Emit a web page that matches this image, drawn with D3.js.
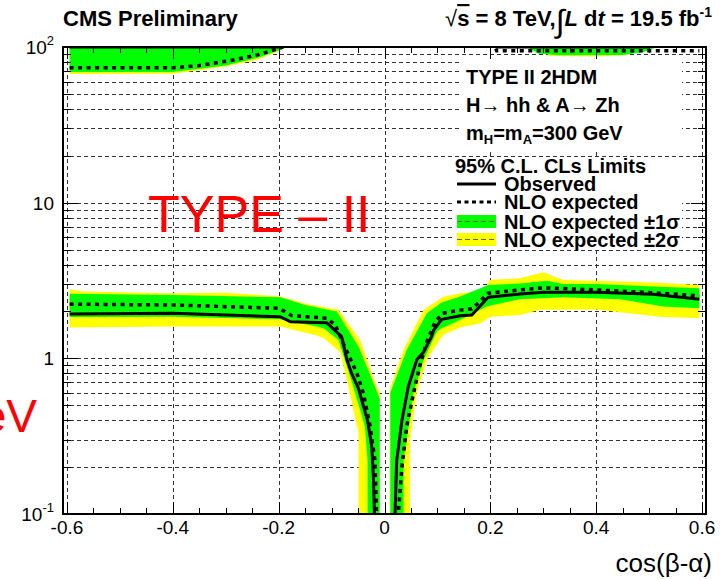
<!DOCTYPE html>
<html><head><meta charset="utf-8">
<script src="https://cdn.jsdelivr.net/npm/d3@7"></script>
<style>body{margin:0;background:#fff} text{font-family:"Liberation Sans",Arial,Helvetica,sans-serif}</style>
</head><body><svg id="c" width="727" height="580"></svg>
<script>
// ---------- data ----------
const xTicks = [-0.6,-0.4,-0.2,0,0.2,0.4,0.6];
const xTickLabels = ["-0.6","-0.4","-0.2","0","0.2","0.4","0.6"];
const yTicks = [0.1,1,10,100];
const yLabelBase = ["10","1","10","10"];
const yLabelExp = ["-1","","","2"];

// lower branch, cos(b-a) < 0
const obsLowL = [[-0.595,1.93],[-0.4,1.95],[-0.3,1.90],[-0.197,1.85],[-0.178,1.72],[-0.109,1.69],[-0.081,1.38],[-0.071,0.98],[-0.062,0.80],[-0.049,0.64],[-0.043,0.54],[-0.032,0.40],[-0.024,0.27],[-0.021,0.174],[-0.019,0.10],[-0.018,0.05]];
const expLowL = [[-0.595,2.23],[-0.4,2.20],[-0.2,2.10],[-0.175,1.88],[-0.109,1.81],[-0.093,1.64],[-0.078,1.25],[-0.052,0.80],[-0.040,0.60],[-0.027,0.365],[-0.018,0.22],[-0.015,0.10],[-0.014,0.05]];
const p2LowL = [[-0.595,2.78],[-0.57,2.69],[-0.4,2.62],[-0.3,2.64],[-0.197,2.50],[-0.15,2.25],[-0.087,2.05],[-0.046,1.31],[-0.015,0.66],[-0.009,0.60],[-0.009,0.01]];
const p1LowL = [[-0.595,2.60],[-0.4,2.55],[-0.197,2.47],[-0.15,2.2],[-0.09,2.0],[-0.049,1.19],[-0.018,0.66],[-0.009,0.55],[-0.009,0.01]];
const m1LowL = [[-0.595,1.84],[-0.4,1.85],[-0.197,1.78],[-0.128,1.60],[-0.115,1.56],[-0.087,1.31],[-0.059,0.66],[-0.037,0.365],[-0.032,0.22],[-0.032,0.01]];
const m2LowL = [[-0.595,1.58],[-0.4,1.60],[-0.197,1.60],[-0.128,1.40],[-0.115,1.35],[-0.084,1.10],[-0.068,0.66],[-0.049,0.33],[-0.049,0.01]];

// lower branch, cos(b-a) > 0
const obsLowR = [[0.018,0.05],[0.020,0.10],[0.023,0.22],[0.033,0.40],[0.045,0.66],[0.061,0.98],[0.074,1.10],[0.089,1.38],[0.093,1.52],[0.108,1.78],[0.143,1.88],[0.165,1.90],[0.196,2.47],[0.256,2.59],[0.300,2.66],[0.401,2.66],[0.508,2.58],[0.595,2.40]];
const expLowR = [[0.025,0.05],[0.026,0.10],[0.033,0.20],[0.042,0.365],[0.055,0.60],[0.067,0.90],[0.080,1.28],[0.096,1.72],[0.110,1.95],[0.143,2.04],[0.165,2.08],[0.196,2.62],[0.256,2.75],[0.300,2.84],[0.401,2.75],[0.508,2.64],[0.595,2.52]];
const p2LowR = [[0.010,0.01],[0.010,0.63],[0.036,1.13],[0.074,2.05],[0.111,2.49],[0.143,2.62],[0.190,2.72],[0.198,3.19],[0.256,3.27],[0.300,3.57],[0.338,3.19],[0.401,3.15],[0.508,3.07],[0.595,2.96]];
const p1LowR = [[0.011,0.01],[0.011,0.60],[0.042,1.13],[0.080,1.95],[0.108,2.28],[0.143,2.50],[0.196,2.96],[0.256,3.03],[0.307,3.15],[0.338,3.00],[0.401,3.00],[0.508,2.89],[0.595,2.82]];
const m1LowR = [[0.036,0.01],[0.036,0.22],[0.055,0.60],[0.074,0.98],[0.099,1.48],[0.108,1.56],[0.130,1.68],[0.162,1.90],[0.193,2.15],[0.256,2.40],[0.338,2.47],[0.445,2.40],[0.527,2.15],[0.595,2.10]];
const m2LowR = [[0.048,0.01],[0.048,0.30],[0.061,0.60],[0.080,0.98],[0.111,1.42],[0.143,1.58],[0.181,1.68],[0.200,1.85],[0.256,1.90],[0.294,2.05],[0.401,2.06],[0.520,1.85],[0.595,1.81]];

// upper branch
const obsUpL = [[-0.595,100],[-0.19,100]];
const obsUpR = [[0.21,100],[0.50,100]];
const expUpL = [[-0.595,73.5],[-0.4,73.5],[-0.35,76],[-0.29,82],[-0.24,89],[-0.195,99],[-0.185,110]];
const expUpR = [[0.205,110],[0.212,94.5],[0.595,94.5]];
const pUpL = [[-0.595,200],[-0.183,200]];
const m1UpL = [[-0.595,69],[-0.4,69],[-0.3,76],[-0.24,85],[-0.2,95],[-0.185,100],[-0.183,200]];
const m2UpL = [[-0.595,67],[-0.4,67.3],[-0.3,75],[-0.24,83],[-0.2,94],[-0.188,100],[-0.186,200]];
const pUpR1 = [[0.27,200],[0.515,200]];
const m1UpR = [[0.27,100],[0.29,91],[0.33,88.5],[0.45,89],[0.49,93],[0.515,100]];
const pUpR2 = [[0.30,200],[0.485,200]];
const m2UpR = [[0.30,100],[0.31,88],[0.40,87],[0.46,89],[0.485,100]];

const GREEN = "#00ff00", YELLOW = "#ffff00";

// ---------- chart ----------
const svg = d3.select("#c");
svg.append("rect").attr("width",727).attr("height",580).attr("fill","#fff");
const L = 63, R = 706, T = 47, B = 514;
const xScale = d3.scaleLinear().domain([-0.6075,0.6075]).range([L,R]);
const yScale = d3.scaleLog().domain([0.1,100]).range([B,T]);

svg.append("defs").append("clipPath").attr("id","pc").append("rect")
  .attr("x",L).attr("y",T).attr("width",R-L).attr("height",B-T);

// grid
const gridY = [];
[0.1,1,10].forEach(d=>{for(let k=1;k<=9;k++){const v=d*k; if(v>0.1000001) gridY.push(v);}});
const gGrid = svg.append("g").attr("stroke","#333").attr("stroke-width",1).attr("stroke-dasharray","4,3");
gGrid.selectAll("line.h").data(gridY).join("line").attr("class","h")
  .attr("x1",L).attr("x2",R).attr("y1",d=>Math.round(yScale(d))+0.5).attr("y2",d=>Math.round(yScale(d))+0.5);
gGrid.selectAll("line.v").data(xTicks).join("line").attr("class","v")
  .attr("y1",T).attr("y2",B).attr("x1",d=>Math.round(xScale(d))+0.5).attr("x2",d=>Math.round(xScale(d))+0.5);

const line = d3.line().x(d=>xScale(d[0])).y(d=>yScale(d[1]));
const poly = (up,lo)=> line(up.concat(lo.slice().reverse())) + "Z";

const gData = svg.append("g").attr("clip-path","url(#pc)");
const yellowBands = [[p2LowL,m2LowL],[p2LowR,m2LowR],[pUpL,m2UpL],[pUpR2,m2UpR]];
const greenBands = [[p1LowL,m1LowL],[p1LowR,m1LowR],[pUpL,m1UpL],[pUpR1,m1UpR]];
gData.selectAll("path.y").data(yellowBands).join("path").attr("class","y")
  .attr("d",d=>poly(d[0],d[1])).attr("fill",YELLOW).attr("stroke","none");
gData.selectAll("path.g").data(greenBands).join("path").attr("class","g")
  .attr("d",d=>poly(d[0],d[1])).attr("fill",GREEN).attr("stroke","none");
gData.selectAll("path.e").data([expLowL,expLowR,expUpL,expUpR]).join("path").attr("class","e")
  .attr("d",line).attr("fill","none").attr("stroke","#000").attr("stroke-width",3.5).attr("stroke-dasharray","4,4.5");
gData.selectAll("path.o").data([obsLowL,obsLowR,obsUpL,obsUpR]).join("path").attr("class","o")
  .attr("d",line).attr("fill","none").attr("stroke","#000").attr("stroke-width",3).attr("stroke-linejoin","round");

// frame and ticks
const gAx = svg.append("g").attr("stroke","#000");
gAx.append("rect").attr("x",L).attr("y",T).attr("width",R-L).attr("height",B-T).attr("fill","none").attr("stroke-width",2);
const xMinor = d3.range(-12,13).map(i=>i*0.05);
const isMajorX = v => Math.abs(v*5 - Math.round(v*5))<1e-6;
xMinor.forEach(v=>{
  const px = Math.round(xScale(v))+0.5, len = isMajorX(v)?12:6;
  gAx.append("line").attr("x1",px).attr("x2",px).attr("y1",B).attr("y2",B-len).attr("stroke-width",1);
  gAx.append("line").attr("x1",px).attr("x2",px).attr("y1",T).attr("y2",T+len).attr("stroke-width",1);
});
const yMinor = [];
[0.1,1,10].forEach(d=>{for(let k=2;k<=9;k++) yMinor.push(d*k);});
yMinor.forEach(v=>{
  const py = Math.round(yScale(v))+0.5;
  gAx.append("line").attr("x1",L).attr("x2",L+8).attr("y1",py).attr("y2",py).attr("stroke-width",1);
  gAx.append("line").attr("x1",R).attr("x2",R-8).attr("y1",py).attr("y2",py).attr("stroke-width",1);
});
yTicks.forEach(v=>{
  const py = Math.round(yScale(v))+0.5;
  gAx.append("line").attr("x1",L).attr("x2",L+15).attr("y1",py).attr("y2",py).attr("stroke-width",1);
  gAx.append("line").attr("x1",R).attr("x2",R-15).attr("y1",py).attr("y2",py).attr("stroke-width",1);
});

// tick labels
xTicks.forEach((v,i)=>{
  svg.append("text").attr("x",xScale(v)).attr("y",534).attr("text-anchor","middle")
    .attr("font-size",19).text(xTickLabels[i]);
});
yTicks.forEach((v,i)=>{
  const t = svg.append("text").attr("x",54).attr("y",yScale(v)+7).attr("text-anchor","end").attr("font-size",19);
  t.append("tspan").text(yLabelBase[i]);
  if (yLabelExp[i]) t.append("tspan").attr("font-size",13).attr("dy",-9).text(yLabelExp[i]);
});
svg.append("text").attr("x",712).attr("y",572).attr("text-anchor","end").attr("font-size",26).text("cos(β-α)");

// header
svg.append("text").attr("x",63).attr("y",26).attr("font-size",22).attr("font-weight","bold").text("CMS Preliminary");
const hd = svg.append("text").attr("x",712).attr("y",26).attr("text-anchor","end").attr("font-size",22).attr("font-weight","bold");
hd.append("tspan").attr("font-weight","normal").text("√");
hd.append("tspan").style("text-decoration","overline").text("s");
hd.append("tspan").text(" = 8 TeV,");
hd.append("tspan").attr("font-size",32).attr("font-weight","normal").attr("dy",6).text("∫");
hd.append("tspan").attr("font-style","italic").attr("dy",-6).text("L");
hd.append("tspan").text(" d");
hd.append("tspan").attr("font-style","italic").text("t");
hd.append("tspan").text(" = 19.5 fb");
hd.append("tspan").attr("font-size",14).attr("dy",-9).text("-1");

// big red labels
svg.append("text").attr("x",148).attr("y",232).attr("font-size",52).attr("fill","#ff0000").text("TYPE – II");
svg.append("text").attr("x",37).attr("y",432).attr("text-anchor","end").attr("font-size",46).attr("fill","#ff0000").text("eV");

// text box
svg.append("rect").attr("x",460).attr("y",60).attr("width",222).attr("height",92).attr("fill","#fff");
const tb = svg.append("g").attr("font-size",20).attr("font-weight","bold");
tb.append("text").attr("x",466).attr("y",84).text("TYPE II 2HDM");
tb.append("text").attr("x",466).attr("y",112).text("H→ hh & A→ Zh");
const mt = tb.append("text").attr("x",466).attr("y",140);
mt.append("tspan").text("m");
mt.append("tspan").attr("font-size",13).attr("dy",4).text("H");
mt.append("tspan").attr("dy",-4).text("=m");
mt.append("tspan").attr("font-size",13).attr("dy",4).text("A");
mt.append("tspan").attr("dy",-4).text("=300 GeV");

// legend
svg.append("rect").attr("x",455).attr("y",157).attr("width",227).attr("height",92).attr("fill","#fff");
const lg = svg.append("g").attr("font-size",20).attr("font-weight","bold");
lg.append("text").attr("x",455).attr("y",173).text("95% C.L. CLs Limits");
const legendItems = ["Observed","NLO expected","NLO expected ±1σ","NLO expected ±2σ"];
const rowY = [184,202,221.5,239.5];
legendItems.forEach((s,i)=>{
  lg.append("text").attr("x",504).attr("y",rowY[i]+7).text(s);
});
lg.append("line").attr("x1",457).attr("x2",496).attr("y1",rowY[0]).attr("y2",rowY[0]).attr("stroke","#000").attr("stroke-width",3);
lg.append("line").attr("x1",457).attr("x2",496).attr("y1",rowY[1]).attr("y2",rowY[1]).attr("stroke","#000").attr("stroke-width",3).attr("stroke-dasharray","4,3.5");
[[GREEN,2],[YELLOW,3]].forEach(([c,i])=>{
  lg.append("rect").attr("x",457).attr("y",rowY[i]-6.5).attr("width",39).attr("height",13).attr("fill",c);
  lg.append("line").attr("x1",457).attr("x2",496).attr("y1",rowY[i]).attr("y2",rowY[i]).attr("stroke","#556b2f").attr("stroke-width",1).attr("stroke-dasharray","5,3");
});
</script></body></html>
